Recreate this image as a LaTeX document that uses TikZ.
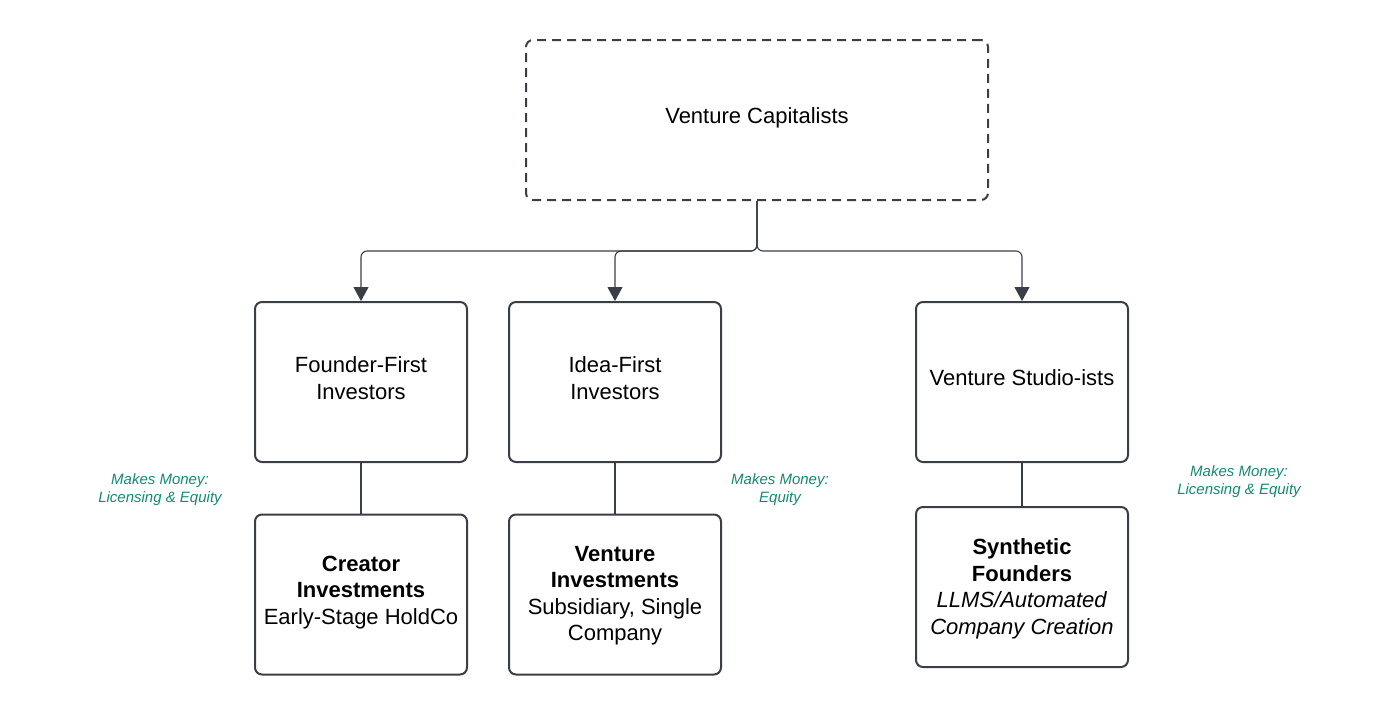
\documentclass[tikz,border=0pt]{standalone}
\usepackage{fontspec}
\setmainfont{Liberation Sans}
\usetikzlibrary{arrows.meta}
\definecolor{ln}{HTML}{3A3F47}
\definecolor{grn}{HTML}{138A72}
\begin{document}
\begin{tikzpicture}[x=1pt,y=-1pt,
  box/.style={draw=ln, line width=2pt, rounded corners=7pt, minimum width=212pt, minimum height=160pt, inner sep=0pt},
  topbox/.style={box, minimum width=462pt, dash pattern=on 9pt off 6pt},
  lbl/.style={align=center, inner sep=0pt, font=\fontsize{22}{26.5}\selectfont},
  conn/.style={draw=ln, line width=1.1pt, rounded corners=6pt, -{Triangle[width=15pt,length=14pt]}},
  link/.style={draw=ln, line width=1.1pt},
  money/.style={text=grn, align=center, inner sep=0pt, font=\fontsize{15}{18}\selectfont\itshape}
]
\useasboundingbox (0,0) rectangle (1400,715);
\node[topbox, label={[lbl,yshift=2pt]center:Venture Capitalists}] (vc) at (757,120) {};
\node[box, label={[lbl,yshift=4pt]center:Founder-First\\Investors}] (ff) at (361,382) {};
\node[box, label={[lbl,yshift=4pt]center:Idea-First\\Investors}] (if) at (615,382) {};
\node[box, label={[lbl,yshift=4pt]center:Venture Studio-ists}] (vs) at (1022,382) {};
\node[box, label={[lbl,yshift=2pt]center:\textbf{Creator}\\\textbf{Investments}\\Early-Stage HoldCo}] (ci) at (361,594.5) {};
\node[box, label={[lbl,yshift=-1pt]center:\textbf{Venture}\\\textbf{Investments}\\Subsidiary, Single\\Company}] (vi) at (615,594.5) {};
\node[box, label={[lbl,yshift=-2pt]center:\textbf{Synthetic}\\\textbf{Founders}\\\textit{LLMS/Automated}\\\textit{Company Creation}}] (sf) at (1022,587) {};
\draw[conn] (vc.south) -- ++(0,50) -| (ff.north);
\draw[conn] (vc.south) -- ++(0,50) -| (if.north);
\draw[conn] (vc.south) -- ++(0,50) -| (vs.north);
\draw[link] (ff.south) -- (ci.north);
\draw[link] (if.south) -- (vi.north);
\draw[link] (vs.south) -- (sf.north);
\node[money] (m1) at (160,490) {Makes Money:\\Licensing \& Equity};
\node[money] (m2) at (780,490) {Makes Money:\\Equity};
\node[money] (m3) at (1239,482) {Makes Money:\\Licensing \& Equity};
\end{tikzpicture}
\end{document}
